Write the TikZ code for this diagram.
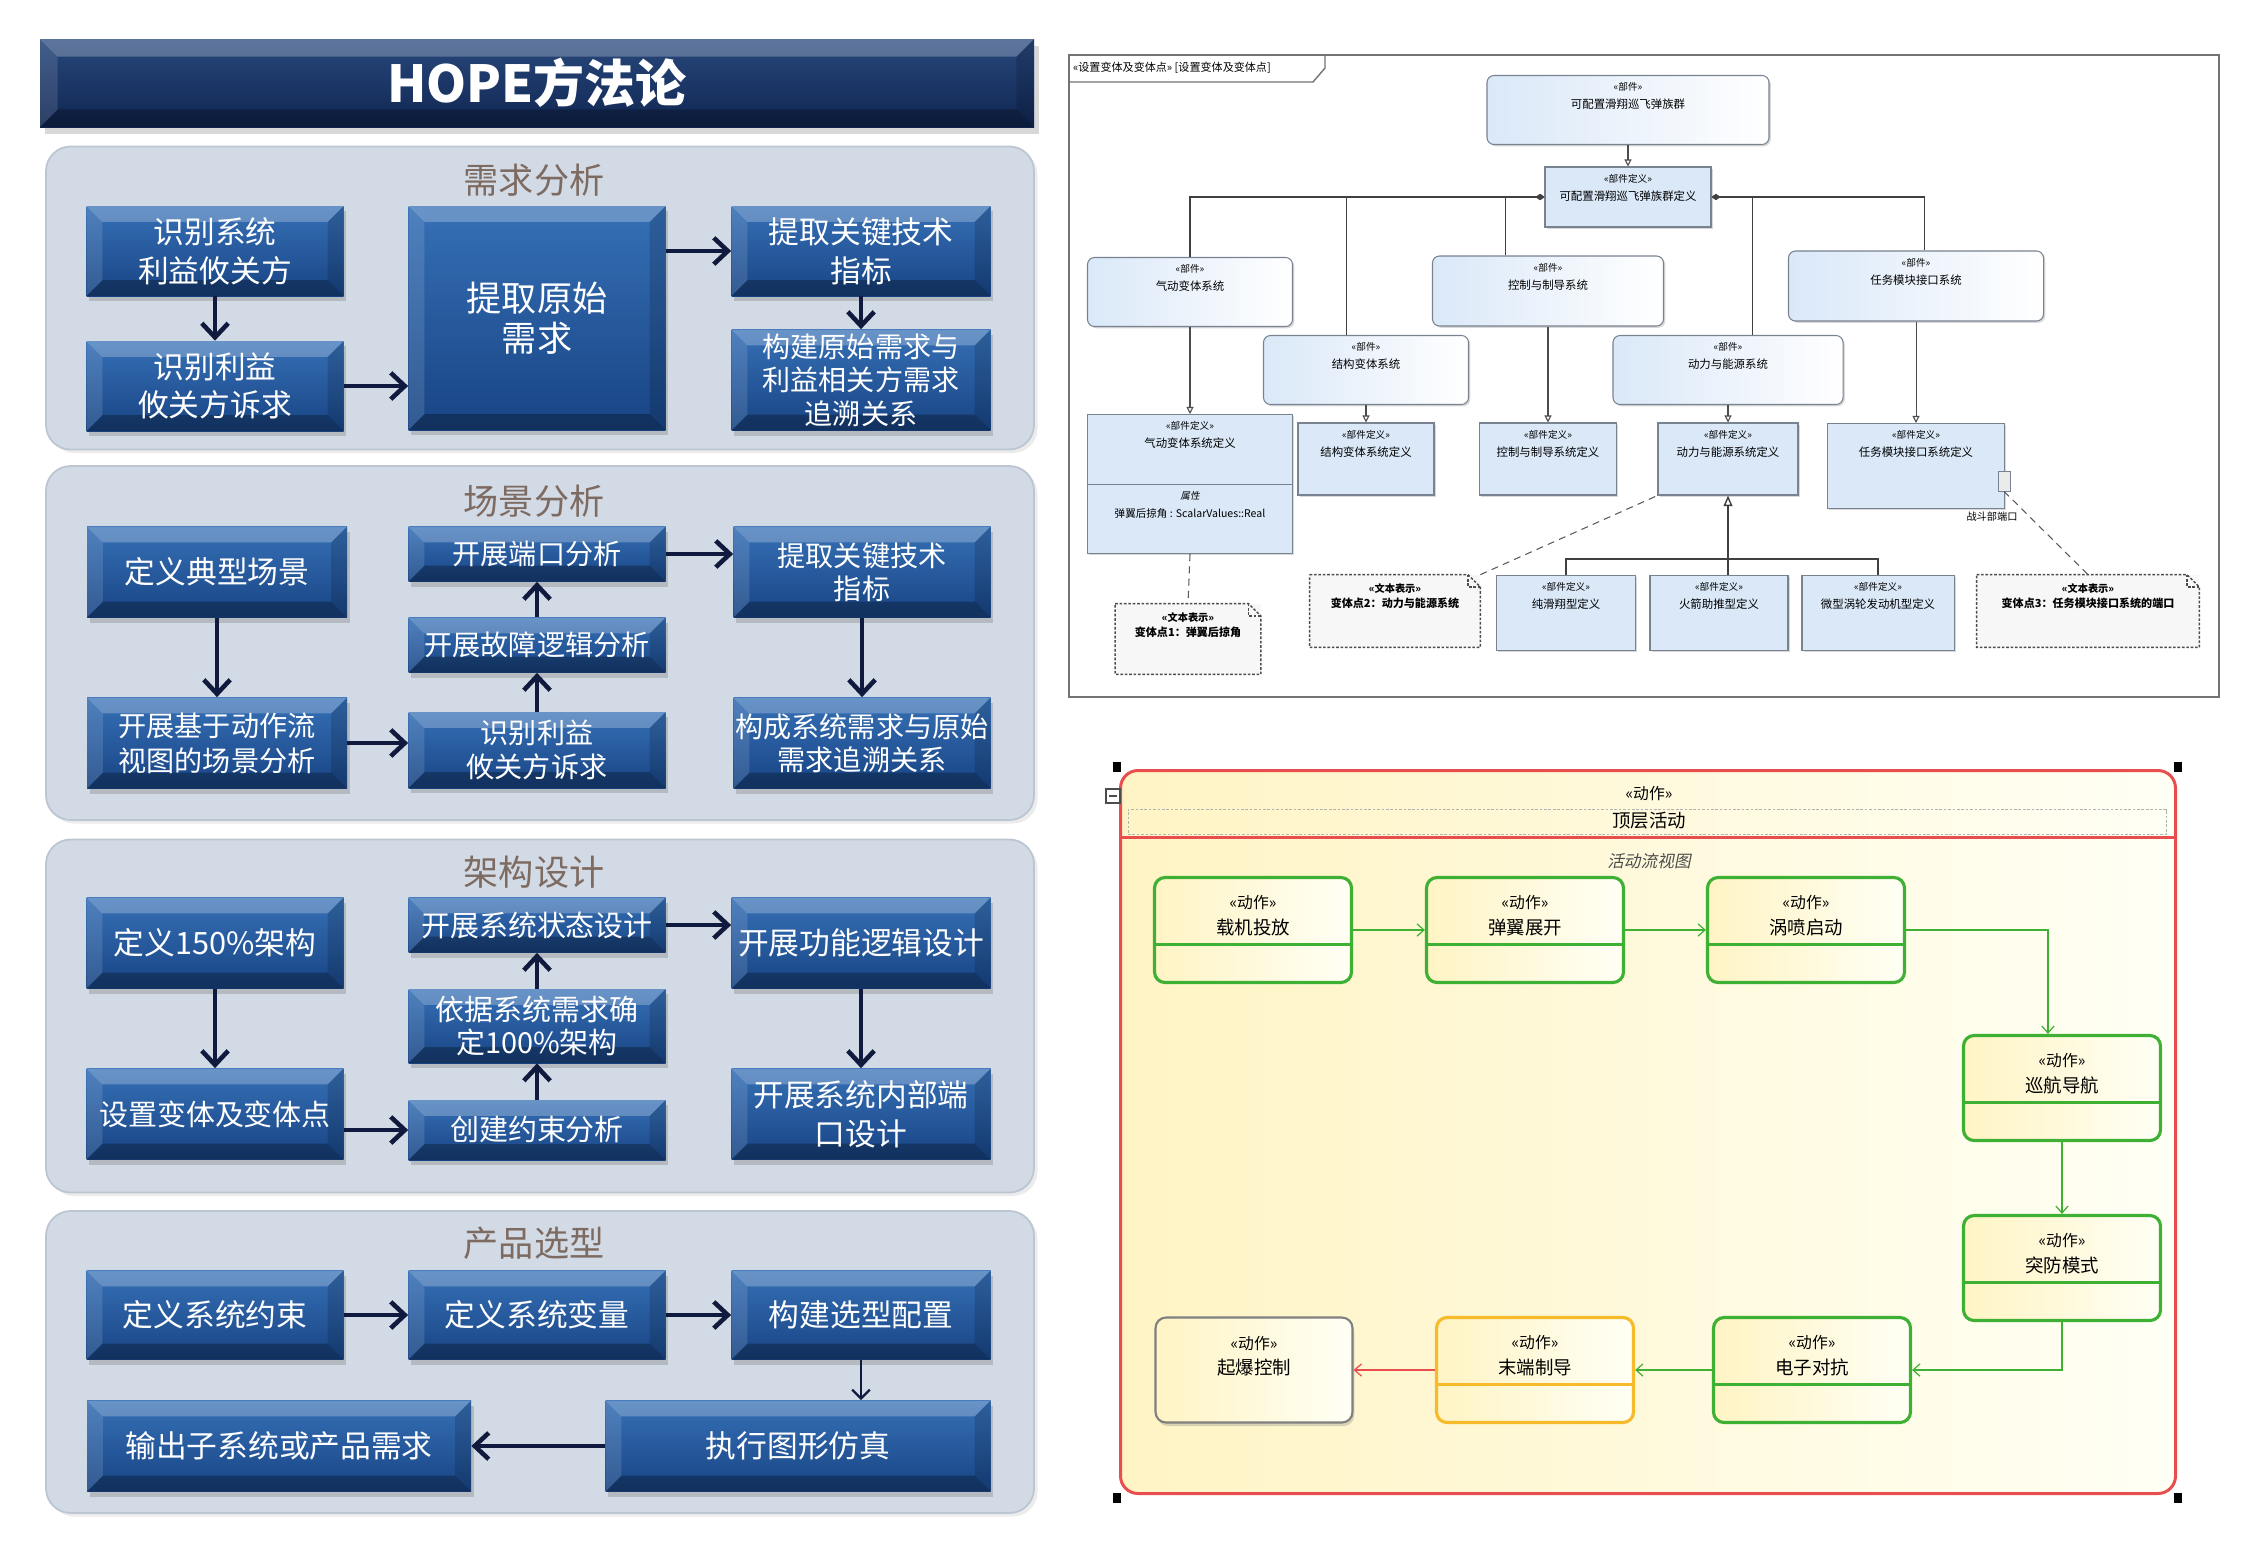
\documentclass[tikz,border=0pt]{standalone}
\usepackage{fontspec}
\setmainfont{Noto Sans CJK SC}
\newfontfamily\cjkit{Noto Sans CJK SC}[FakeSlant=0.2]
\usetikzlibrary{arrows.meta,shadows,positioning}
\newcommand\pxu{0.02cm}
\newcommand\fs[2]{\fontsize{#1}{#2}\selectfont}
\newcommand\ster[1]{{\fs{5.5pt}{7.5pt}«#1»}}
\definecolor{boxtop}{RGB}{54,112,182}
\definecolor{boxbot}{RGB}{24,68,132}
\definecolor{navy}{RGB}{16,26,62}
\definecolor{titletop}{RGB}{40,72,124}
\definecolor{titlebot}{RGB}{16,38,82}
\definecolor{panelbg}{RGB}{210,218,229}
\definecolor{panelln}{RGB}{188,197,210}
\definecolor{seclbl}{RGB}{125,106,96}
\definecolor{umlfill}{RGB}{218,232,248}
\definecolor{umlline}{RGB}{120,130,145}
\definecolor{actred}{RGB}{232,78,78}
\definecolor{actgreen}{RGB}{62,176,52}
\definecolor{actorange}{RGB}{246,186,42}
\definecolor{actgray}{RGB}{128,128,128}
\definecolor{paleyel}{RGB}{255,244,196}
\tikzset{
  sz/.style 2 args={minimum width=#1*\pxu, minimum height=#2*\pxu},
  bevel/.style={path picture={
    \fill[white,opacity=.25] (path picture bounding box.north west) -- (path picture bounding box.north east)
      -- ([shift={(-#1,-#1)}]path picture bounding box.north east) -- ([shift={(#1,-#1)}]path picture bounding box.north west) -- cycle;
    \fill[white,opacity=.12] (path picture bounding box.north west) -- ([shift={(#1,-#1)}]path picture bounding box.north west)
      -- ([shift={(#1,#1)}]path picture bounding box.south west) -- (path picture bounding box.south west) -- cycle;
    \fill[black,opacity=.28] (path picture bounding box.south west) -- (path picture bounding box.south east)
      -- ([shift={(-#1,#1)}]path picture bounding box.south east) -- ([shift={(#1,#1)}]path picture bounding box.south west) -- cycle;
    \fill[black,opacity=.15] (path picture bounding box.north east) -- ([shift={(-#1,-#1)}]path picture bounding box.north east)
      -- ([shift={(-#1,#1)}]path picture bounding box.south east) -- (path picture bounding box.south east) -- cycle;
  }},
  blk/.style 2 args={sz={#1}{#2}, top color=boxtop, bottom color=boxbot, bevel=9pt,
    drop shadow={opacity=.35,shadow xshift=1.5pt,shadow yshift=-3pt},
    text=white, align=center, font=\fs{17.5pt}{22pt}, inner sep=1pt},
  flow/.style={draw=navy, line width=2.6pt, -{Straight Barb[length=8pt,width=15pt]}},
  panel/.style 2 args={sz={#1}{#2}, rounded corners=14pt, fill=panelbg, draw=panelln, line width=1pt,
    drop shadow={opacity=.15,shadow xshift=2pt,shadow yshift=-2pt}},
  secl/.style={text=seclbl, font=\fs{20pt}{24pt}},
  part/.style 2 args={sz={#1}{#2}, rounded corners=4pt, draw=umlline, line width=.6pt,
    left color=umlfill, right color=white, drop shadow={opacity=.3,shadow xshift=1pt,shadow yshift=-1pt}},
  pdef/.style 2 args={sz={#1}{#2}, draw=umlline, line width=.6pt, fill=umlfill,
    drop shadow={opacity=.3,shadow xshift=1pt,shadow yshift=-1pt}},
  utxt/.style={anchor=north, align=center, font=\fs{6.5pt}{10.5pt}, inner sep=1pt, yshift=-3pt},
  note/.style 2 args={sz={#1}{#2}, fill=black!3},
  ntxt/.style={anchor=north, align=center, font=\bfseries\fs{6.3pt}{8.5pt}, inner sep=1pt, yshift=-4pt},
  notedash/.style={draw=black!70, dash pattern=on 1.5pt off 1pt, line width=.8pt},
  typed/.style={draw=black!70, line width=.6pt, -{Triangle[open,length=4pt,width=4pt]}},
  comp/.style={draw=black!75, line width=.7pt, -{Diamond[length=5pt,width=3.5pt]}},
  vdash/.style={draw=black!65, dash pattern=on 4pt off 3pt, line width=.6pt},
  act/.style={sz={197}{105}, rounded corners=6pt, draw=actgreen, line width=1.8pt,
    left color=paleyel, right color=white!96!yellow},
  atxt/.style={anchor=north, align=center, font=\fs{10.5pt}{14.5pt}, inner sep=1pt, yshift=-10pt},
  aflow/.style={draw=actgreen, line width=1.1pt, -{Straight Barb[length=4pt,width=7pt,line width=.7pt]}}
}
\begin{document}
\begin{tikzpicture}[x=0.02cm, y=-0.02cm]
\useasboundingbox[fill=white] (0,0) rectangle (2264,1552);

\node[sz={994}{88}, top color=titletop, bottom color=titlebot, bevel=10pt,
  drop shadow={opacity=.3,shadow yshift=-4pt}, text=white, font=\bfseries\fs{29pt}{34pt}] (title) at (537,83) {HOPE方法论};

\node[panel={988}{303}] (pan1) at (540,298) {};
\node[panel={988}{354}] (pan2) at (540,643) {};
\node[panel={988}{353}] (pan3) at (540,1016) {};
\node[panel={988}{302}] (pan4) at (540,1362) {};
\node[secl] (sec1) at (534,180) {需求分析};
\node[secl] (sec2) at (534,501) {场景分析};
\node[secl] (sec3) at (534,872) {架构设计};
\node[secl] (sec4) at (534,1243) {产品选型};

\node[blk={257}{90}] (r1) at (215,251) {识别系统\\利益攸关方};
\node[blk={257}{90}] (r2) at (215,386) {识别利益\\攸关方诉求};
\node[blk={257}{224}, font=\fs{20pt}{23pt}] (r3) at (537,318) {提取原始\\需求};
\node[blk={259}{90}] (r4) at (861,251) {提取关键技术\\指标};
\node[blk={259}{101}, font=\fs{16pt}{19pt}] (r5) at (861,380) {构建原始需求与\\利益相关方需求\\追溯关系};
\draw[flow] (r1) -- (r2);
\draw[flow] (r2.east) -- (r2.east -| r3.west);
\draw[flow] (r3.east |- r4) -- (r4.west);
\draw[flow] (r4) -- (r5);

\node[blk={260}{91}] (s1) at (217,572) {定义典型场景};
\node[blk={260}{91}, font=\fs{16pt}{20pt}] (s2) at (217,743) {开展基于动作流\\视图的场景分析};
\node[blk={257}{55}, font=\fs{16pt}{20pt}] (s3) at (537,554) {开展端口分析};
\node[blk={257}{55}, font=\fs{16pt}{20pt}] (s4) at (537,645) {开展故障逻辑分析};
\node[blk={257}{76}, font=\fs{16pt}{19pt}] (s5) at (537,750) {识别利益\\攸关方诉求};
\node[blk={257}{91}, font=\fs{16pt}{19pt}] (s6) at (862,572) {提取关键技术\\指标};
\node[blk={257}{91}, font=\fs{16pt}{19pt}] (s7) at (862,743) {构成系统需求与原始\\需求追溯关系};
\draw[flow] (s1) -- (s2);
\draw[flow] (s2.east) -- (s2.east -| s5.west);
\draw[flow] (s5) -- (s4);
\draw[flow] (s4) -- (s3);
\draw[flow] (s3.east) -- (s3.east -| s6.west);
\draw[flow] (s6) -- (s7);

\node[blk={257}{91}] (m1) at (215,943) {定义150\%架构};
\node[blk={257}{91}, font=\fs{16.5pt}{20pt}] (m2) at (215,1114) {设置变体及变体点};
\node[blk={257}{55}, font=\fs{16.5pt}{20pt}] (m3) at (537,925) {开展系统状态设计};
\node[blk={257}{74}, font=\fs{16.5pt}{19pt}] (m4) at (537,1026) {依据系统需求确\\定100\%架构};
\node[blk={257}{60}, font=\fs{16.5pt}{20pt}] (m5) at (537,1130) {创建约束分析};
\node[blk={259}{91}] (m6) at (861,943) {开展功能逻辑设计};
\node[blk={259}{91}] (m7) at (861,1114) {开展系统内部端\\口设计};
\draw[flow] (m1) -- (m2);
\draw[flow] (m2.east |- m5) -- (m5.west);
\draw[flow] (m5) -- (m4);
\draw[flow] (m4) -- (m3);
\draw[flow] (m3.east) -- (m3.east -| m6.west);
\draw[flow] (m6) -- (m7);

\node[blk={257}{89}] (t1) at (215,1315) {定义系统约束};
\node[blk={257}{89}] (t2) at (537,1315) {定义系统变量};
\node[blk={259}{89}] (t3) at (861,1315) {构建选型配置};
\node[blk={385}{91}] (t4) at (798,1446) {执行图形仿真};
\node[blk={384}{91}] (t5) at (279,1446) {输出子系统或产品需求};
\draw[flow] (t1) -- (t2);
\draw[flow] (t2) -- (t3);
\draw[navy, line width=1.3pt, -{Straight Barb[length=5pt,width=10pt]}] (t3.south) -- (t3.south |- t4.north);
\draw[flow] (t4) -- (t5);

% variant model
\draw[black!55, line width=1pt] (1069,55) rectangle (2219,697);
\draw[black!55, line width=.8pt] (1069,82) -- (1313,82) -- (1325,68) -- (1325,55);
\node[anchor=west, font=\fs{6.3pt}{7pt}, inner sep=1pt] (tab) at (1071,68) {«设置变体及变体点» [设置变体及变体点]};

\node[part={282}{69}, label={[utxt]north:{\ster{部件}\\可配置滑翔巡飞弹族群}}] (pTop) at (1628,110) {};
\node[pdef={166}{60}, label={[utxt]north:{\ster{部件定义}\\可配置滑翔巡飞弹族群定义}}] (dTop) at (1628,197) {};
\node[part={205}{69}, label={[utxt]north:{\ster{部件}\\气动变体系统}}] (pAero) at (1190,292) {};
\node[part={231}{70}, label={[utxt]north:{\ster{部件}\\控制与制导系统}}] (pCtrl) at (1548,291) {};
\node[part={255}{70}, label={[utxt]north:{\ster{部件}\\任务模块接口系统}}] (pMiss) at (1916,286) {};
\node[part={205}{69}, label={[utxt]north:{\ster{部件}\\结构变体系统}}] (pStru) at (1366,370) {};
\node[part={230}{69}, label={[utxt]north:{\ster{部件}\\动力与能源系统}}] (pPowr) at (1728,370) {};

\node[pdef={205}{139}, label={[utxt]north:{\ster{部件定义}\\气动变体系统定义}}] (dAero) at (1190,484) {};
\draw[umlline, line width=.6pt] ([yshift=-40pt]dAero.north west) -- ([yshift=-40pt]dAero.north east);
\node[anchor=north, align=center, font=\fs{6pt}{10pt}, inner sep=1pt] (aeroAttr) at ([yshift=-43pt]dAero.north)
  {{\cjkit\fs{5.5pt}{10pt}属性}\\弹翼后掠角 : ScalarValues::Real};
\node[pdef={136}{72}, label={[utxt]north:{\ster{部件定义}\\结构变体系统定义}}] (dStru) at (1366,459) {};
\node[pdef={137}{72}, label={[utxt]north:{\ster{部件定义}\\控制与制导系统定义}}] (dCtrl) at (1548,459) {};
\node[pdef={140}{72}, label={[utxt]north:{\ster{部件定义}\\动力与能源系统定义}}] (dPowr) at (1728,459) {};
\node[pdef={177}{85}, label={[utxt]north:{\ster{部件定义}\\任务模块接口系统定义}}] (dMiss) at (1916,466) {};
\node[pdef={139}{75}, label={[utxt]north:{\ster{部件定义}\\纯滑翔型定义}}] (dGlid) at (1566,613) {};
\node[pdef={138}{75}, label={[utxt]north:{\ster{部件定义}\\火箭助推型定义}}] (dRock) at (1719,613) {};
\node[pdef={152}{75}, label={[utxt]north:{\ster{部件定义}\\微型涡轮发动机型定义}}] (dTurb) at (1878,613) {};
\node[draw=umlline, fill=black!8, sz={12}{20}, inner sep=0pt] (port) at (2004,481) {};
\node[font=\fs{5.8pt}{7pt}, inner sep=1pt] (portlbl) at (1992,517) {战斗部端口};

\node[note={145}{70}, label={[ntxt]north:{{\fs{5.8pt}{8pt}«文本表示»}\\变体点1：弹翼后掠角}}] (n1) at (1188,639) {};
\node[note={170}{72}, label={[ntxt]north:{{\fs{5.8pt}{8pt}«文本表示»}\\变体点2：动力与能源系统}}] (n2) at (1395,611) {};
\node[note={222}{72}, label={[ntxt]north:{{\fs{5.8pt}{8pt}«文本表示»}\\变体点3：任务模块接口系统的端口}}] (n3) at (2088,611) {};
\foreach \n in {n1,n2,n3} {
  \draw[notedash] (\n.north west) -- ([xshift=-7pt]\n.north east) -- ([yshift=-7pt]\n.north east)
    -- (\n.south east) -- (\n.south west) -- cycle;
  \draw[notedash] ([xshift=-7pt]\n.north east) -- ([xshift=-7pt,yshift=-7pt]\n.north east) -- ([yshift=-7pt]\n.north east);
}

\draw[comp] (pAero.north) |- (dTop.west);
\draw[comp] ([xshift=-11pt]pStru.north) |- (dTop.west);
\draw[comp] ([xshift=-24pt]pCtrl.north) |- (dTop.west);
\draw[comp] ([xshift=14pt]pPowr.north) |- (dTop.east);
\draw[comp] ([xshift=5pt]pMiss.north) |- (dTop.east);
\foreach \a/\b in {pTop/dTop, pAero/dAero, pStru/dStru, pCtrl/dCtrl, pPowr/dPowr, pMiss/dMiss}
  \draw[typed] (\a.south) -- (\b.north);
\coordinate (gbus) at (1728,559);
\draw[black!75, line width=.8pt] (dGlid.north) |- (gbus) -| (dTurb.north);
\draw[black!75, line width=.8pt] (gbus) -- (gbus |- dRock.north);
\draw[black!75, line width=.8pt, -{Triangle[open,length=6pt,width=5pt]}] (gbus) -- (dPowr.south);
\draw[vdash] (dAero.south) -- (n1.north);
\draw[vdash] (n2.north east) -- (dPowr.south west);
\draw[vdash] (port.south) -- (n3.north);

% activity view
\node[sz={1055}{723}, rounded corners=10pt, draw=actred, line width=1.7pt,
  left color=paleyel, right color=white!96!yellow] (actfrm) at (1648,1132) {};
\draw[actred, line width=1.7pt] (1121,837) -- (2176,837);
\node[draw=black!30, dash pattern=on 1.5pt off 1pt, sz={1038}{25}] (hdrbox) at (1647,822) {};
\node[font=\fs{9pt}{10pt}, inner sep=1pt] (hdrst) at (1649,794) {«动作»};
\node[font=\fs{10.5pt}{12pt}, inner sep=1pt] (hdrname) at (1649,821) {顶层活动};
\node[font=\cjkit\fs{9.5pt}{11pt}, text=black!70] (view) at (1649,861) {活动流视图};
\foreach \p in {(1117,767),(2178,767),(1117,1498),(2178,1498)}
  \fill \p +(-4,-5) rectangle +(4,5);
\draw[black!70, line width=.6pt] (1106,789) rectangle (1120,803);
\draw[black!70, line width=.6pt] (1109,796) -- (1117,796);

\node[act, label={[atxt]north:{{\fs{9pt}{11pt}«动作»}\\载机投放}}] (a1) at (1253,930) {};
\node[act, label={[atxt]north:{{\fs{9pt}{11pt}«动作»}\\弹翼展开}}] (a2) at (1525,930) {};
\node[act, label={[atxt]north:{{\fs{9pt}{11pt}«动作»}\\涡喷启动}}] (a3) at (1806,930) {};
\node[act, label={[atxt]north:{{\fs{9pt}{11pt}«动作»}\\巡航导航}}] (a4) at (2062,1088) {};
\node[act, label={[atxt]north:{{\fs{9pt}{11pt}«动作»}\\突防模式}}] (a5) at (2062,1268) {};
\node[act, label={[atxt]north:{{\fs{9pt}{11pt}«动作»}\\电子对抗}}] (a6) at (1812,1370) {};
\node[act, draw=actorange, label={[atxt]north:{{\fs{9pt}{11pt}«动作»}\\末端制导}}] (a7) at (1535,1370) {};
\node[act, draw=actgray, line width=1.2pt, drop shadow={opacity=.3,shadow xshift=1pt,shadow yshift=-2pt},
  label={[atxt]north:{{\fs{9pt}{11pt}«动作»}\\起爆控制}}] (a8) at (1254,1370) {};
\foreach \n/\c in {a1/actgreen, a2/actgreen, a3/actgreen, a4/actgreen, a5/actgreen, a6/actgreen, a7/actorange}
  \draw[\c, line width=1.8pt] ([yshift=-39pt]\n.north west) -- ([yshift=-39pt]\n.north east);

\draw[aflow] (a1) -- (a2);
\draw[aflow] (a2) -- (a3);
\draw[aflow] (a3.east) -| ([xshift=-8pt]a4.north);
\draw[aflow] (a4) -- (a5);
\draw[aflow] (a5.south) |- (a6.east);
\draw[aflow] (a6) -- (a7);
\draw[aflow, draw=actred, line width=1.6pt] (a7) -- (a8);
\end{tikzpicture}
\end{document}
